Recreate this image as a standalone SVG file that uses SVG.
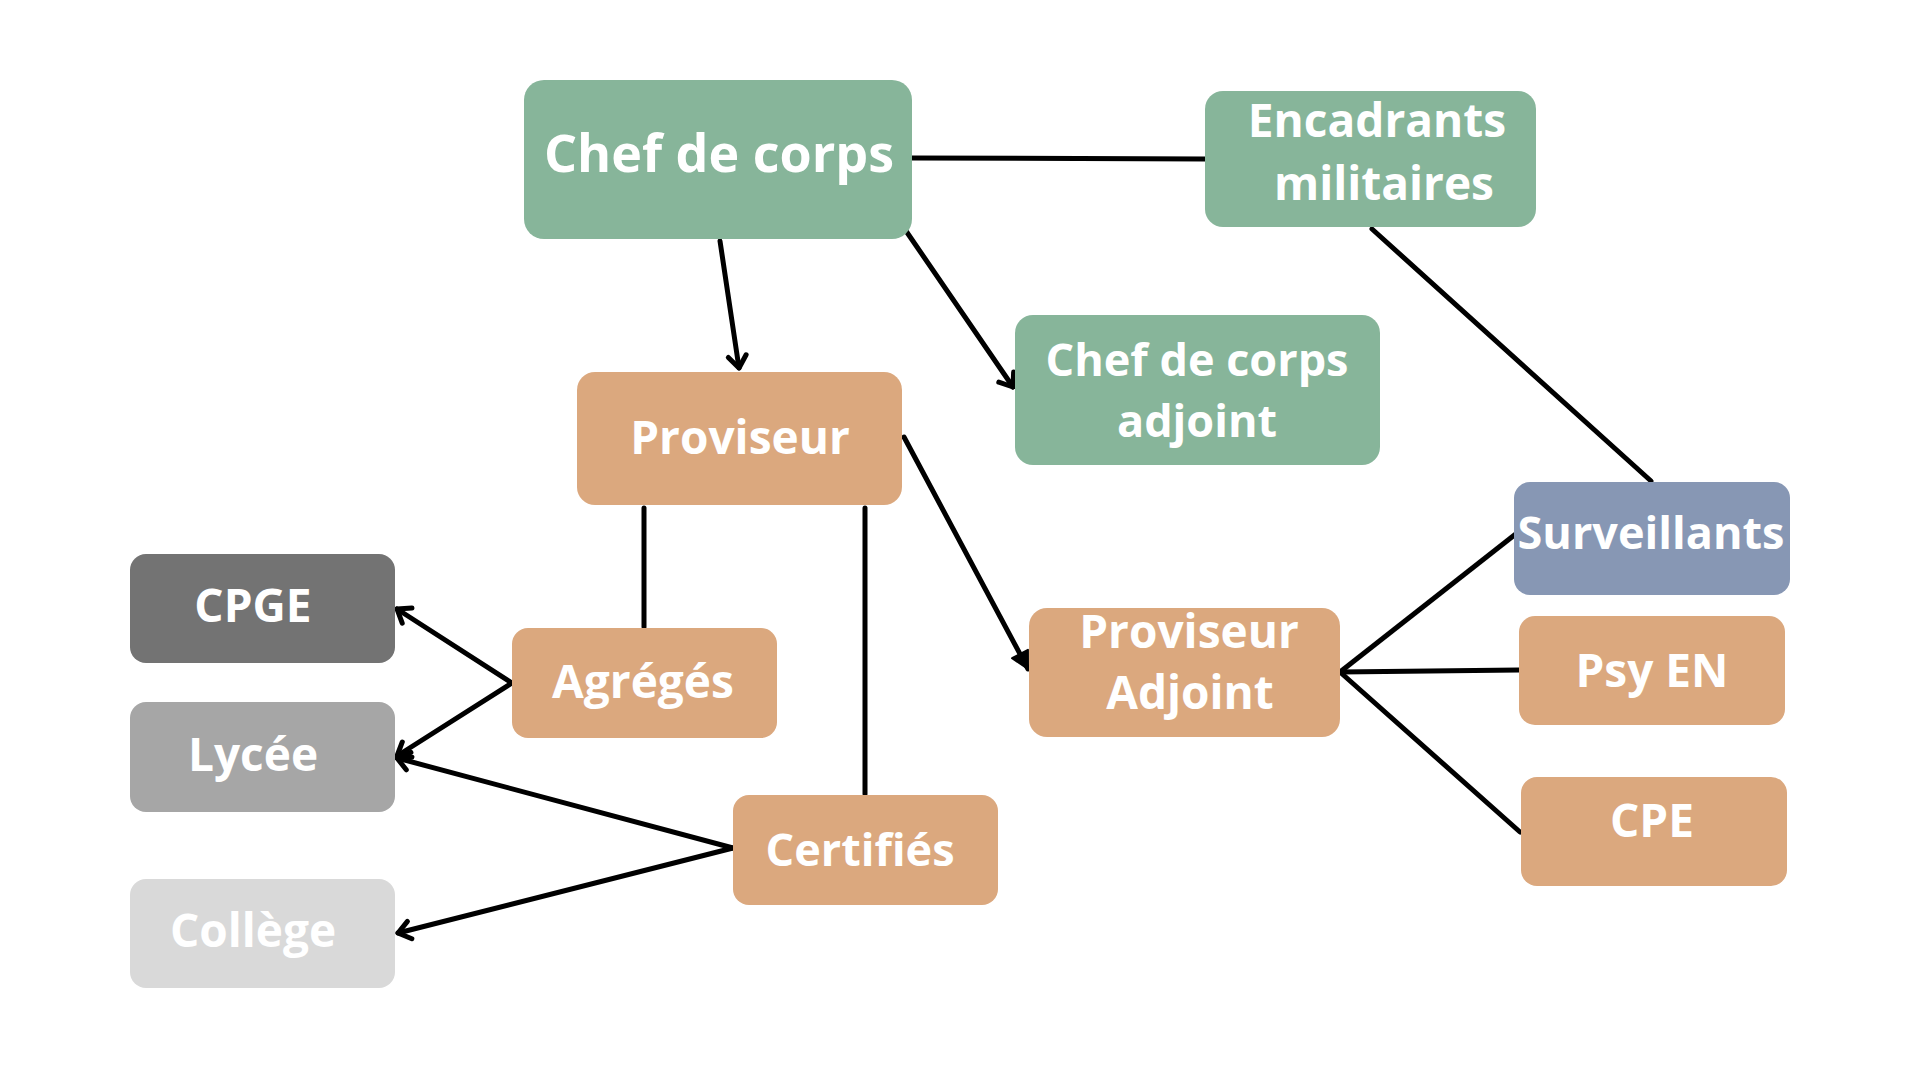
<svg xmlns="http://www.w3.org/2000/svg" width="1920" height="1080" viewBox="0 0 1920 1080">
<style>
.lbl{font-family:"Open Sans","Liberation Sans",sans-serif;font-weight:700;fill:#ffffff;text-anchor:middle}
.f46{font-size:46px}
.f45{font-size:45px}
.f53{font-size:52px}
.green{fill:#87B59A}
.orange{fill:#DBA87E}
.blue{fill:#8797B4}
.edge{stroke:#000;stroke-width:5;fill:none;stroke-linecap:round}
</style>
<defs>
<marker id="v" markerUnits="userSpaceOnUse" markerWidth="40" markerHeight="40" refX="0" refY="0" viewBox="-20 -20 40 40" orient="auto" overflow="visible">
<path d="M -12 -9 L 0 0 L -12 9" fill="none" stroke="#000" stroke-width="5" stroke-linecap="round" stroke-linejoin="round"/>
</marker>
<marker id="tri" markerUnits="userSpaceOnUse" markerWidth="40" markerHeight="40" refX="0" refY="0" viewBox="-20 -20 40 40" orient="auto" overflow="visible">
<path d="M -17 -9 L 0 0 L -17 9 Z" fill="#000" stroke="#000" stroke-width="2" stroke-linejoin="round"/>
</marker>
</defs>
<rect width="1920" height="1080" fill="#ffffff"/>
<g id="connectors">
<line class="edge" x1="912" y1="158" x2="1205" y2="159"/>
<line class="edge" x1="720" y1="241" x2="739" y2="368" marker-end="url(#v)"/>
<line class="edge" x1="904" y1="228" x2="1013" y2="387" marker-end="url(#v)"/>
<line class="edge" x1="1372" y1="229" x2="1651" y2="481"/>
<line class="edge" x1="904" y1="437" x2="1028" y2="669" marker-end="url(#tri)"/>
<line class="edge" x1="644" y1="508" x2="644" y2="627"/>
<line class="edge" x1="865" y1="508" x2="865" y2="794"/>
<line class="edge" x1="512" y1="683" x2="397" y2="609" marker-end="url(#v)"/>
<line class="edge" x1="512" y1="683" x2="397" y2="756" marker-end="url(#v)"/>
<line class="edge" x1="733" y1="848" x2="397" y2="758" marker-end="url(#v)"/>
<line class="edge" x1="733" y1="848" x2="398" y2="933" marker-end="url(#v)"/>
<line class="edge" x1="1340" y1="672" x2="1517" y2="533"/>
<line class="edge" x1="1340" y1="672" x2="1519" y2="670"/>
<line class="edge" x1="1340" y1="672" x2="1520" y2="832"/>
</g>
<g id="chef-de-corps">
<rect class="green" x="524" y="80" width="388" height="159" rx="20"/>
<text class="lbl f53" x="719" y="172">Chef de corps</text>
</g>
<g id="encadrants-militaires">
<rect class="green" x="1205" y="91" width="331" height="136" rx="18"/>
<text class="lbl f46" x="1377" y="137">Encadrants</text>
<text class="lbl f46" x="1384" y="200">militaires</text>
</g>
<g id="chef-de-corps-adjoint">
<rect class="green" x="1015" y="315" width="365" height="150" rx="18"/>
<text class="lbl f45" x="1197" y="376">Chef de corps</text>
<text class="lbl f45" x="1197" y="437">adjoint</text>
</g>
<g id="proviseur">
<rect class="orange" x="577" y="372" width="325" height="133" rx="18"/>
<text class="lbl f46" x="740" y="454">Proviseur</text>
</g>
<g id="proviseur-adjoint">
<rect class="orange" x="1029" y="608" width="311" height="129" rx="18"/>
<text class="lbl f46" x="1189" y="648">Proviseur</text>
<text class="lbl f46" x="1190" y="709">Adjoint</text>
</g>
<g id="surveillants">
<rect class="blue" x="1514" y="482" width="276" height="113" rx="16"/>
<text class="lbl f45" x="1651" y="549">Surveillants</text>
</g>
<g id="psy-en">
<rect class="orange" x="1519" y="616" width="266" height="109" rx="16"/>
<text class="lbl f46" x="1652" y="687">Psy EN</text>
</g>
<g id="cpe">
<rect class="orange" x="1521" y="777" width="266" height="109" rx="16"/>
<text class="lbl f46" x="1652" y="837">CPE</text>
</g>
<g id="cpge">
<rect x="130" y="554" width="265" height="109" rx="16" fill="#737373"/>
<text class="lbl f46" x="253" y="622">CPGE</text>
</g>
<g id="lycee">
<rect x="130" y="702" width="265" height="110" rx="16" fill="#A6A6A6"/>
<text class="lbl f46" x="253" y="771">Lycée</text>
</g>
<g id="college">
<rect x="130" y="879" width="265" height="109" rx="16" fill="#D9D9D9"/>
<text class="lbl f46" x="253" y="947">Collège</text>
</g>
<g id="agreges">
<rect class="orange" x="512" y="628" width="265" height="110" rx="16"/>
<text class="lbl f46" x="643" y="698">Agrégés</text>
</g>
<g id="certifies">
<rect class="orange" x="733" y="795" width="265" height="110" rx="16"/>
<text class="lbl f45" x="860" y="866">Certifiés</text>
</g>
</svg>
